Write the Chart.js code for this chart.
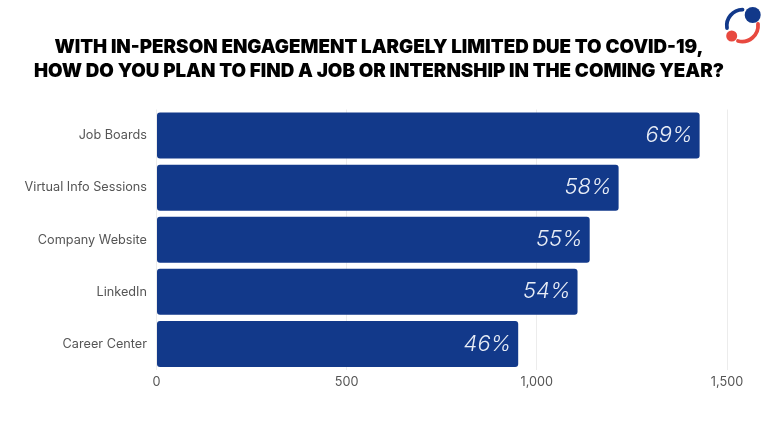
<!DOCTYPE html>
<html><head><meta charset="utf-8">
<script src="https://cdn.jsdelivr.net/npm/chart.js@4"></script>
<style>
html,body{margin:0;padding:0;background:#fff;width:768px;height:432px;overflow:hidden}
#wrap{position:relative;width:768px;height:432px}
canvas{display:block}
#logo{position:absolute;left:722px;top:0;width:40px;height:46px}
</style></head><body>
<div id="wrap"><canvas id="c" width="768" height="432"></canvas>
<svg id="logo" viewBox="0 0 40 46" fill="none" aria-hidden="true">
<path d="M5 28 A 16 16 0 0 1 20.5 9.6" stroke="#12398a" stroke-width="3.8" stroke-linecap="round"/>
<circle cx="30.7" cy="15" r="8" fill="#12398a"/>
<path d="M36 24 A 16 16 0 0 1 16 41" stroke="#e8493f" stroke-width="3.8" stroke-linecap="round"/>
<circle cx="9.7" cy="36" r="5.5" fill="#e8493f"/>
</svg></div>
<script>
const categories=["Job Boards","Virtual Info Sessions","Company Website","LinkedIn","Career Center"];
const responses=[1428,1215,1139,1107,951];
const percentLabels=["69%","58%","55%","54%","46%"];
const titleLines=["WITH IN-PERSON ENGAGEMENT LARGELY LIMITED DUE TO COVID-19,","HOW DO YOU PLAN TO FIND A JOB OR INTERNSHIP IN THE COMING YEAR?"];
const xTicks=[0,500,1000,1500];
const textFont='Inter, "Open Sans", sans-serif';

const headline={id:'headline',afterDraw(chart){
  const ctx=chart.ctx;ctx.save();
  ctx.font='900 18.8px '+textFont;ctx.fillStyle='#000';ctx.textAlign='center';ctx.textBaseline='middle';
  titleLines.forEach((t,i)=>ctx.fillText(t,379,47+i*24));
  ctx.restore();
}};
const barLabels={id:'barLabels',afterDatasetsDraw(chart){
  const ctx=chart.ctx,meta=chart.getDatasetMeta(0);ctx.save();
  ctx.font='italic 300 22px '+textFont;ctx.fillStyle='#e8edf6';ctx.textAlign='right';ctx.textBaseline='middle';
  meta.data.forEach((b,i)=>ctx.fillText(percentLabels[i],b.x-7,b.y));
  ctx.restore();
}};
new Chart(document.getElementById('c'),{
  type:'bar',
  data:{labels:categories,datasets:[{data:responses,backgroundColor:'#12398a',borderColor:'#12398a',borderWidth:0,borderRadius:3,borderSkipped:false,categoryPercentage:0.883,barPercentage:1}]},
  plugins:[headline,barLabels],
  options:{
    indexAxis:'y',responsive:false,animation:false,
    layout:{padding:{top:109.5,right:41,bottom:0,left:0}},
    plugins:{legend:{display:false},tooltip:{enabled:false},title:{display:false}},
    scales:{
      x:{min:0,max:1500,afterBuildTicks(s){s.ticks=xTicks.map(v=>({value:v}));},afterFit(s){s.height=62;},
        grid:{color:'#ececec',lineWidth:1,drawTicks:false},border:{display:false},
        ticks:{color:'#555',padding:5,font:{family:textFont,size:12.7},maxRotation:0}},
      y:{afterFit(s){s.width=156.5;},grid:{display:false,drawTicks:false},border:{display:false},
        ticks:{color:'#555',padding:9.5,font:{family:textFont,size:12.7}}}
    }
  }
});
</script></body></html>
